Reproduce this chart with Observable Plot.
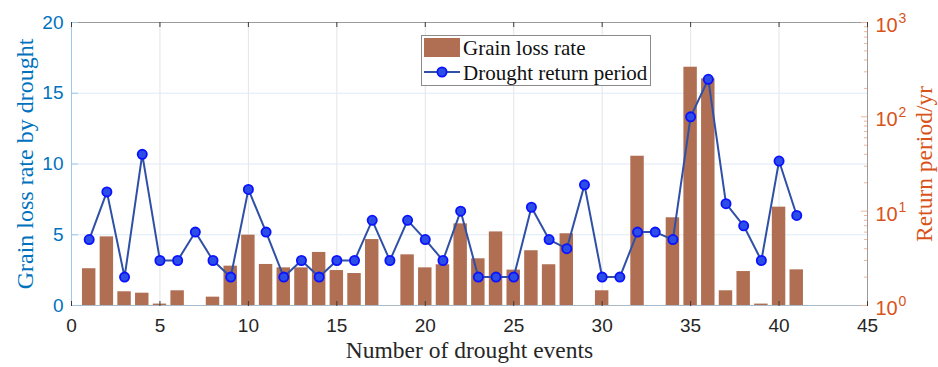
<!DOCTYPE html>
<html>
<head>
<meta charset="utf-8">
<script src="https://cdn.jsdelivr.net/npm/d3@7"></script>
<script src="https://cdn.jsdelivr.net/npm/@observablehq/plot@0.6"></script>
<style>
  html, body { margin: 0; padding: 0; background: #fff; }
  #chart { position: relative; width: 938px; height: 367px; }
  #chart > svg { position: absolute; left: 0; top: 0; }
</style>
</head>
<body>
<div id="chart"></div>
<script>
// Drought events 1–41
const events = [1, 2, 3, 4, 5, 6, 7, 8, 9, 10, 11, 12, 13, 14, 15, 16, 17, 18, 19, 20,
  21, 22, 23, 24, 25, 26, 27, 28, 29, 30, 31, 32, 33, 34, 35, 36, 37, 38, 39, 40, 41];

// Grain loss rate by drought (left axis)
const grainLoss = [2.6, 4.85, 0.97, 0.87, 0.1, 1.04, 0, 0.59, 2.78, 4.97,
  2.9, 2.66, 2.66, 3.75, 2.47, 2.26, 4.66, 0, 3.58, 2.66,
  2.88, 5.77, 3.3, 5.2, 2.5, 3.87, 2.88, 5.07, 0, 1.04,
  0, 10.55, 0, 6.2, 16.84, 16.02, 1.04, 2.4, 0.1, 6.95, 2.52];

// Drought return period in years (right axis, log scale)
const returnPeriod = [5, 16, 2, 40, 3, 3, 6, 3, 2, 17,
  6, 2, 3, 2, 3, 3, 8, 3, 8, 5,
  3, 10, 2, 2, 2, 11, 5, 4, 19, 2,
  2, 6, 6, 5, 100, 250, 12, 7, 3, 34, 9];

// Axis ticks
const xTicks = [0, 5, 10, 15, 20, 25, 30, 35, 40, 45];
const leftTicks = [0, 5, 10, 15, 20];
const rightTicks = [1, 10, 100, 1000];

const xDomain = [0, 45];
const leftDomain = [0, 20];
const rightDomain = [1, 1000];
const barHalfWidth = 0.38;

const rows = events.map((e, i) => ({event: e, loss: grainLoss[i], period: returnPeriod[i]}));
const rightMinor = d3.range(0, 3).flatMap(k => d3.range(2, 10).map(m => m * 10 ** k));

const blue = "#0072BD";
const orange = "#D95319";
const barColor = "#b06f52";
const lineColor = "#2f50a6";
const sans = "'Liberation Sans', Arial, sans-serif";
const serif = "'Liberation Serif', 'Times New Roman', serif";

const frame = {width: 938, height: 367, marginLeft: 71, marginRight: 71, marginTop: 22, marginBottom: 62};

// Bars, grid, left axis and x axis
const base = Plot.plot({
  ...frame,
  style: {fontFamily: sans, background: "transparent", overflow: "visible"},
  x: {domain: xDomain},
  y: {domain: leftDomain},
  marks: [
    Plot.gridX({ticks: xTicks.slice(1, -1), stroke: "#e4e4e4", strokeOpacity: 1}),
    Plot.gridY({ticks: leftTicks.slice(1, -1), stroke: "#dfeaf6", strokeOpacity: 1}),
    Plot.rectY(rows, {x1: d => d.event - barHalfWidth, x2: d => d.event + barHalfWidth, y: "loss", fill: barColor}),
    Plot.ruleY([leftDomain[1]], {stroke: "#9b9b9b"}),
    Plot.ruleY([leftDomain[0]], {stroke: "#a9b9c8"}),
    Plot.ruleX([xDomain[1]], {stroke: "#9b9b9b"}),
    Plot.ruleX([xDomain[0]], {stroke: "#9cc7ea"}),
    // inward ticks on the bottom and top edges
    Plot.axisX({anchor: "top", frameAnchor: "bottom", ticks: xTicks, tickSize: 5, fill: "none", stroke: "#3a3a3a", label: null}),
    Plot.axisX({anchor: "bottom", frameAnchor: "top", ticks: xTicks, tickSize: 5, fill: "none", stroke: "#3a3a3a", label: null}),
    Plot.axisX({anchor: "bottom", ticks: xTicks, tickSize: 0, tickPadding: 13, fontSize: 19, color: "#262626", label: null}),
    // left axis, ticks pointing inward
    Plot.axisY({anchor: "right", frameAnchor: "left", ticks: leftTicks, tickSize: 6, fill: "none", stroke: "#9cc7ea", label: null}),
    Plot.axisY({anchor: "left", ticks: leftTicks, tickSize: 0, tickPadding: 8, fontSize: 19, color: blue, label: null}),
    Plot.text(["Grain loss rate by drought"], {frameAnchor: "left", dx: -46, rotate: -90, textAnchor: "middle", lineAnchor: "middle", fontSize: 24, fontFamily: serif, fill: blue}),
    Plot.text(["Number of drought events"], {frameAnchor: "bottom", dy: 45, textAnchor: "middle", lineAnchor: "middle", fontSize: 23.5, fontFamily: serif, fill: "#262626"})
  ]
});

// Return-period line on the logarithmic right axis
const overlay = Plot.plot({
  ...frame,
  style: {fontFamily: sans, background: "transparent", overflow: "visible"},
  x: {domain: xDomain, axis: null},
  y: {type: "log", domain: rightDomain},
  marks: [
    Plot.axisY({anchor: "left", frameAnchor: "right", ticks: rightMinor, tickSize: 3, fill: "none", stroke: "#f1b59c", label: null}),
    Plot.axisY({anchor: "left", frameAnchor: "right", ticks: rightTicks, tickSize: 6, fill: "none", stroke: "#f1b59c", label: null}),
    Plot.text(rightTicks, {y: d => d, frameAnchor: "right", text: () => "10", dx: 8, dy: 3, textAnchor: "start", lineAnchor: "middle", fontSize: 20, fill: orange}),
    Plot.text(rightTicks, {y: d => d, frameAnchor: "right", text: d => String(Math.round(Math.log10(d))), dx: 31, dy: -4, textAnchor: "start", lineAnchor: "middle", fontSize: 14, fill: orange}),
    Plot.text(["Return period/yr"], {frameAnchor: "right", dx: 57, rotate: -90, textAnchor: "middle", lineAnchor: "middle", fontSize: 23.5, fontFamily: serif, fill: orange}),
    Plot.line(rows, {x: "event", y: "period", stroke: lineColor, strokeWidth: 2}),
    Plot.dot(rows, {x: "event", y: "period", r: 4.6, fill: "#2d4ee6", stroke: "#0a12ff", strokeWidth: 1.8})
  ]
});

const chart = document.getElementById("chart");
chart.append(base, overlay);

// Legend box inside the plot area
const ns = "http://www.w3.org/2000/svg";
const legend = d3.select(chart).append("svg")
  .attr("width", 938).attr("height", 367)
  .style("position", "absolute").style("left", 0).style("top", 0)
  .style("font-family", serif).style("font-size", "21px");
const lg = legend.append("g").attr("transform", "translate(421,35)");
lg.append("rect").attr("x", 0.5).attr("y", 0.5).attr("width", 229).attr("height", 50)
  .attr("fill", "#fff").attr("stroke", "#8a8a8a");
lg.append("rect").attr("x", 3).attr("y", 3).attr("width", 36).attr("height", 19).attr("fill", barColor);
lg.append("text").attr("x", 42).attr("y", 20).attr("fill", "#111").text("Grain loss rate");
lg.append("line").attr("x1", 3).attr("x2", 39).attr("y1", 37).attr("y2", 37)
  .attr("stroke", lineColor).attr("stroke-width", 2);
lg.append("circle").attr("cx", 21).attr("cy", 37).attr("r", 4.6)
  .attr("fill", "#2d4ee6").attr("stroke", "#0a12ff").attr("stroke-width", 1.8);
lg.append("text").attr("x", 42).attr("y", 45).attr("fill", "#111").text("Drought return period");
</script>
</body>
</html>
